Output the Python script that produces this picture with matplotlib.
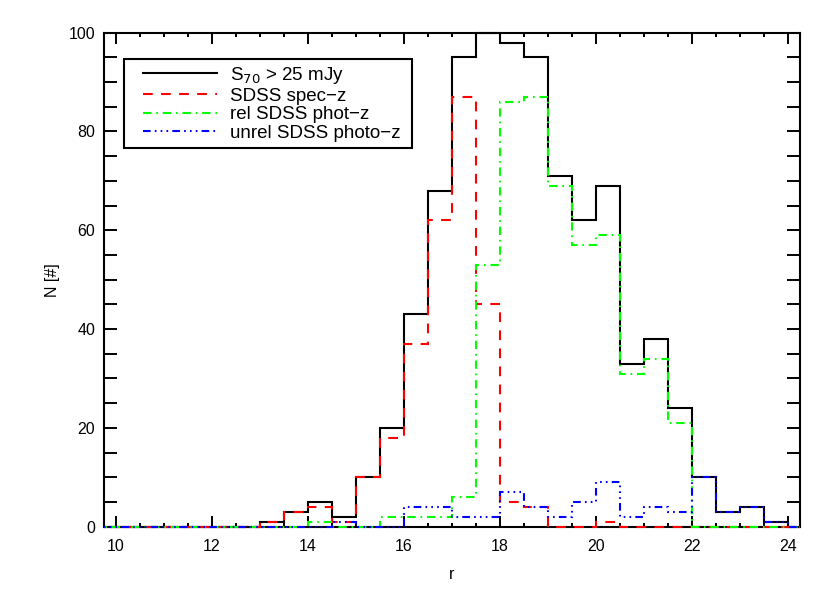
import numpy as np
import matplotlib.pyplot as plt
from matplotlib.patches import Rectangle

plt.rcParams['font.family'] = ['Liberation Sans', 'DejaVu Sans']
plt.rcParams['lines.scale_dashes'] = False

# bin edges, 0.5 mag wide
edges = np.arange(9.5, 25.01, 0.5)

# counts per bin (bins 9.5 .. 25.0)
n_all = [0, 0, 0, 0, 0, 0, 0,
         1, 3, 5, 2, 10, 20, 43, 68, 95, 100, 98, 95, 71, 62, 69, 33, 38, 24, 10, 3, 4, 1,
         0, 0]
n_spec = [0, 0, 0, 0, 0, 0, 0,
          1, 3, 4, 1, 10, 18, 37, 62, 87, 45, 5, 4, 0, 0, 1, 0, 0, 0, 0, 0, 0, 0,
          0, 0]
n_rel = [0, 0, 0, 0, 0, 0, 0,
         0, 0, 1, 0, 0, 2, 2, 2, 6, 53, 86, 87, 69, 57, 59, 31, 34, 21, 0, 0, 0, 0,
         0, 0]
n_unrel = [0, 0, 0, 0, 0, 0, 0,
           0, 0, 0, 1, 0, 0, 4, 4, 2, 2, 7, 4, 2, 5, 9, 2, 4, 3, 10, 3, 4, 1,
           0, 0]

labels = ['S$_{70}$ > 25 mJy', 'SDSS spec\u2212z', 'rel SDSS phot\u2212z', 'unrel SDSS photo\u2212z']

fig = plt.figure(figsize=(8.3, 5.93), dpi=100)
ax = fig.add_axes([0.1249, 0.1118, 0.8386, 0.8331])

# let the zero-level lines show on top of the bottom axis
clip = Rectangle((0, -0.01), 1, 1.02, transform=ax.transAxes)

lw = 1.5
styles = [('black', '-'),
          ('#ff0000', (0, (7, 6))),
          ('#00ff00', (0, (6, 3.5, 1.2, 3.5))),
          ('#0000ff', (0, (5.5, 3, 1.2, 3, 1.2, 3, 1.2, 3)))]
for vals, (c, ls), lab in zip([n_all, n_spec, n_rel, n_unrel], styles, labels):
    st = ax.stairs(vals, edges, color=c, lw=lw, linestyle=ls, label=lab, zorder=3)
    st.set_clip_path(clip)

ax.set_xlim(9.75, 24.25)
ax.set_ylim(0, 100)
ax.set_xticks(np.arange(10, 24.1, 2))
ax.set_xticks(np.arange(10, 24.1, 0.5), minor=True)
ax.set_yticks(np.arange(0, 101, 20))
ax.set_yticks(np.arange(0, 101, 5), minor=True)

ax.tick_params(axis='both', which='both', direction='in', top=True, right=True,
               width=1.4, labelsize=11.5, pad=6)
ax.tick_params(axis='x', which='both', pad=9)
ax.tick_params(axis='x', which='major', length=7.6)
ax.tick_params(axis='x', which='minor', length=3.2)
ax.tick_params(axis='y', which='both', length=9.4)
for s in ax.spines.values():
    s.set_linewidth(1.5)

ax.set_xlabel('r', fontsize=11.5, labelpad=9)
ax.set_ylabel('N [#]', fontsize=11.5, labelpad=6)

leg = ax.legend(loc='upper left', bbox_to_anchor=(0.0565, 0.935), borderaxespad=0,
                fontsize=13.5, handlelength=3.95, handletextpad=0.7, labelspacing=0.085,
                borderpad=0, frameon=False)

# legend box
fig.add_artist(Rectangle((124 / 830, 1 - 148 / 593), 288 / 830, 89 / 593,
                         transform=fig.transFigure, fill=False, lw=1.5,
                         ec='black', zorder=5))

fig.savefig('out.png', dpi=100)
